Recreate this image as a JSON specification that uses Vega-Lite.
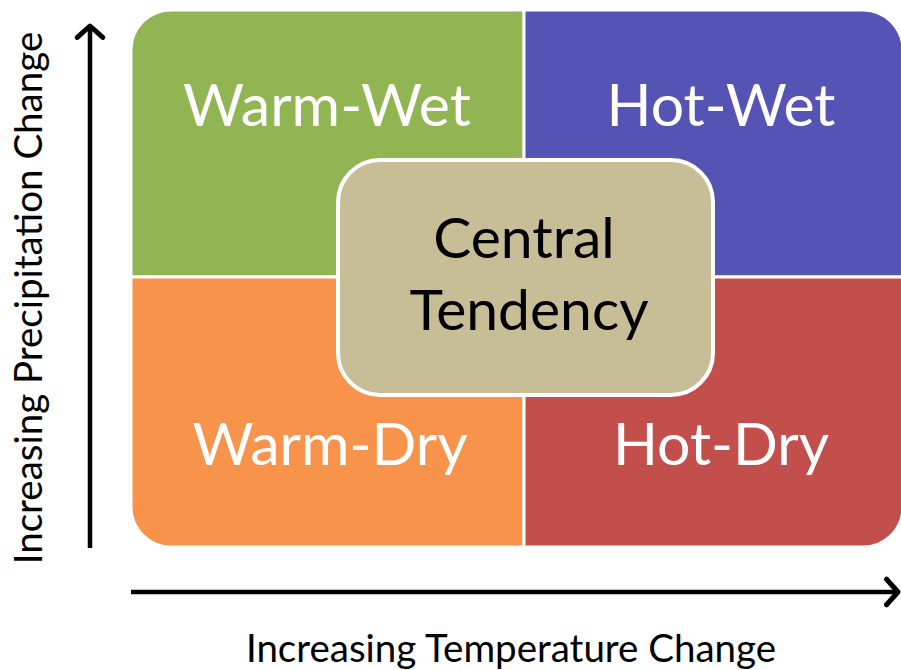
{
  "$schema": "https://vega.github.io/schema/vega-lite/v6.json",
  "width": 901,
  "height": 670,
  "autosize": {"type": "none"},
  "padding": 0,
  "background": "white",
  "config": {"view": {"stroke": null}},
  "datasets": {
    "quads": [
      {"region": "Warm-Wet", "x": 131, "x2": 524, "y": 10, "y2": 277},
      {"region": "Hot-Wet", "x": 524, "x2": 903, "y": 10, "y2": 277},
      {"region": "Warm-Dry", "x": 131, "x2": 524, "y": 277, "y2": 547},
      {"region": "Hot-Dry", "x": 524, "x2": 903, "y": 277, "y2": 547},
      {"region": "Central Tendency", "x": 338, "x2": 713, "y": 160, "y2": 395}
    ],
    "labels": [
      {"label": "Warm-Wet", "x": 327, "y": 108, "kind": "quad"},
      {"label": "Hot-Wet", "x": 721, "y": 108, "kind": "quad"},
      {"label": "Warm-Dry", "x": 330, "y": 447, "kind": "quad"},
      {"label": "Hot-Dry", "x": 721, "y": 447, "kind": "quad"},
      {"label": "Central", "x": 524, "y": 241, "kind": "center"},
      {"label": "Tendency", "x": 529, "y": 313, "kind": "center"}
    ],
    "arrows": [
      {"axis": "precipitation", "x": 90, "y": 548, "x2": 90, "y2": 27},
      {"axis": "temperature", "x": 131, "y": 592, "x2": 897, "y2": 592}
    ],
    "heads": [
      {"axis": "precipitation", "x": 90, "y": 26},
      {"axis": "temperature", "x": 898, "y": 592}
    ],
    "titles": [
      {"title": "Increasing Temperature Change", "x": 511, "y": 650, "axis": "temperature"},
      {"title": "Increasing Precipitation Change", "x": 30, "y": 298, "axis": "precipitation"}
    ]
  },
  "layer": [
    {
      "data": {"name": "quads"},
      "transform": [{"filter": "datum.region === 'Warm-Wet'"}],
      "mark": {"type": "rect", "cornerRadiusTopLeft": 40, "stroke": "white", "strokeWidth": 3},
      "encoding": {
        "x": {"field": "x", "type": "quantitative", "scale": {"domain": [0, 901], "nice": false, "zero": false}, "axis": null},
        "x2": {"field": "x2"},
        "y": {"field": "y", "type": "quantitative", "scale": {"domain": [0, 670], "nice": false, "zero": false, "reverse": true}, "axis": null},
        "y2": {"field": "y2"},
        "color": {"field": "region", "type": "nominal", "legend": null,
          "scale": {"domain": ["Warm-Wet", "Hot-Wet", "Warm-Dry", "Hot-Dry", "Central Tendency"],
                    "range": ["#91b553", "#5553b3", "#f7934a", "#c34f4c", "#c7be97"]}}
      }
    },
    {
      "data": {"name": "quads"},
      "transform": [{"filter": "datum.region === 'Hot-Wet'"}],
      "mark": {"type": "rect", "cornerRadiusTopRight": 40, "stroke": "white", "strokeWidth": 3},
      "encoding": {
        "x": {"field": "x", "type": "quantitative"},
        "x2": {"field": "x2"},
        "y": {"field": "y", "type": "quantitative"},
        "y2": {"field": "y2"},
        "color": {"field": "region", "type": "nominal", "legend": null}
      }
    },
    {
      "data": {"name": "quads"},
      "transform": [{"filter": "datum.region === 'Warm-Dry'"}],
      "mark": {"type": "rect", "cornerRadiusBottomLeft": 40, "stroke": "white", "strokeWidth": 3},
      "encoding": {
        "x": {"field": "x", "type": "quantitative"},
        "x2": {"field": "x2"},
        "y": {"field": "y", "type": "quantitative"},
        "y2": {"field": "y2"},
        "color": {"field": "region", "type": "nominal", "legend": null}
      }
    },
    {
      "data": {"name": "quads"},
      "transform": [{"filter": "datum.region === 'Hot-Dry'"}],
      "mark": {"type": "rect", "cornerRadiusBottomRight": 40, "stroke": "white", "strokeWidth": 3},
      "encoding": {
        "x": {"field": "x", "type": "quantitative"},
        "x2": {"field": "x2"},
        "y": {"field": "y", "type": "quantitative"},
        "y2": {"field": "y2"},
        "color": {"field": "region", "type": "nominal", "legend": null}
      }
    },
    {
      "data": {"name": "quads"},
      "transform": [{"filter": "datum.region === 'Central Tendency'"}],
      "mark": {"type": "rect", "cornerRadius": 42, "stroke": "white", "strokeWidth": 4},
      "encoding": {
        "x": {"field": "x", "type": "quantitative"},
        "x2": {"field": "x2"},
        "y": {"field": "y", "type": "quantitative"},
        "y2": {"field": "y2"},
        "color": {"field": "region", "type": "nominal", "legend": null}
      }
    },
    {
      "data": {"name": "labels"},
      "transform": [{"filter": "datum.kind === 'quad'"}],
      "mark": {"type": "text", "font": "Lato", "fontSize": 59, "align": "center", "baseline": "middle", "fill": "white"},
      "encoding": {
        "x": {"field": "x", "type": "quantitative"},
        "y": {"field": "y", "type": "quantitative"},
        "text": {"field": "label"}
      }
    },
    {
      "data": {"name": "labels"},
      "transform": [{"filter": "datum.kind === 'center'"}],
      "mark": {"type": "text", "font": "Lato", "fontSize": 57, "align": "center", "baseline": "middle", "fill": "black"},
      "encoding": {
        "x": {"field": "x", "type": "quantitative"},
        "y": {"field": "y", "type": "quantitative"},
        "text": {"field": "label"}
      }
    },
    {
      "data": {"name": "arrows"},
      "mark": {"type": "rule", "color": "black", "strokeWidth": 4.5},
      "encoding": {
        "x": {"field": "x", "type": "quantitative"},
        "x2": {"field": "x2"},
        "y": {"field": "y", "type": "quantitative"},
        "y2": {"field": "y2"}
      }
    },
    {
      "data": {"name": "heads"},
      "transform": [{"filter": "datum.axis === 'precipitation'"}],
      "mark": {"type": "point", "shape": "M-1,0.9L0,0L1,0.9", "filled": false, "stroke": "black", "strokeWidth": 5, "strokeJoin": "round", "strokeCap": "round", "size": 650, "opacity": 1},
      "encoding": {
        "x": {"field": "x", "type": "quantitative"},
        "y": {"field": "y", "type": "quantitative"}
      }
    },
    {
      "data": {"name": "heads"},
      "transform": [{"filter": "datum.axis === 'temperature'"}],
      "mark": {"type": "point", "shape": "M-1,0.9L0,0L1,0.9", "angle": 90, "filled": false, "stroke": "black", "strokeWidth": 5, "strokeJoin": "round", "strokeCap": "round", "size": 650, "opacity": 1},
      "encoding": {
        "x": {"field": "x", "type": "quantitative"},
        "y": {"field": "y", "type": "quantitative"}
      }
    },
    {
      "data": {"name": "titles"},
      "transform": [{"filter": "datum.axis === 'temperature'"}],
      "mark": {"type": "text", "font": "Lato", "fontSize": 38.5, "align": "center", "baseline": "middle", "fill": "black"},
      "encoding": {
        "x": {"field": "x", "type": "quantitative"},
        "y": {"field": "y", "type": "quantitative"},
        "text": {"field": "title"}
      }
    },
    {
      "data": {"name": "titles"},
      "transform": [{"filter": "datum.axis === 'precipitation'"}],
      "mark": {"type": "text", "font": "Lato", "fontSize": 38.5, "align": "center", "baseline": "middle", "fill": "black", "angle": 270},
      "encoding": {
        "x": {"field": "x", "type": "quantitative"},
        "y": {"field": "y", "type": "quantitative"},
        "text": {"field": "title"}
      }
    }
  ]
}
